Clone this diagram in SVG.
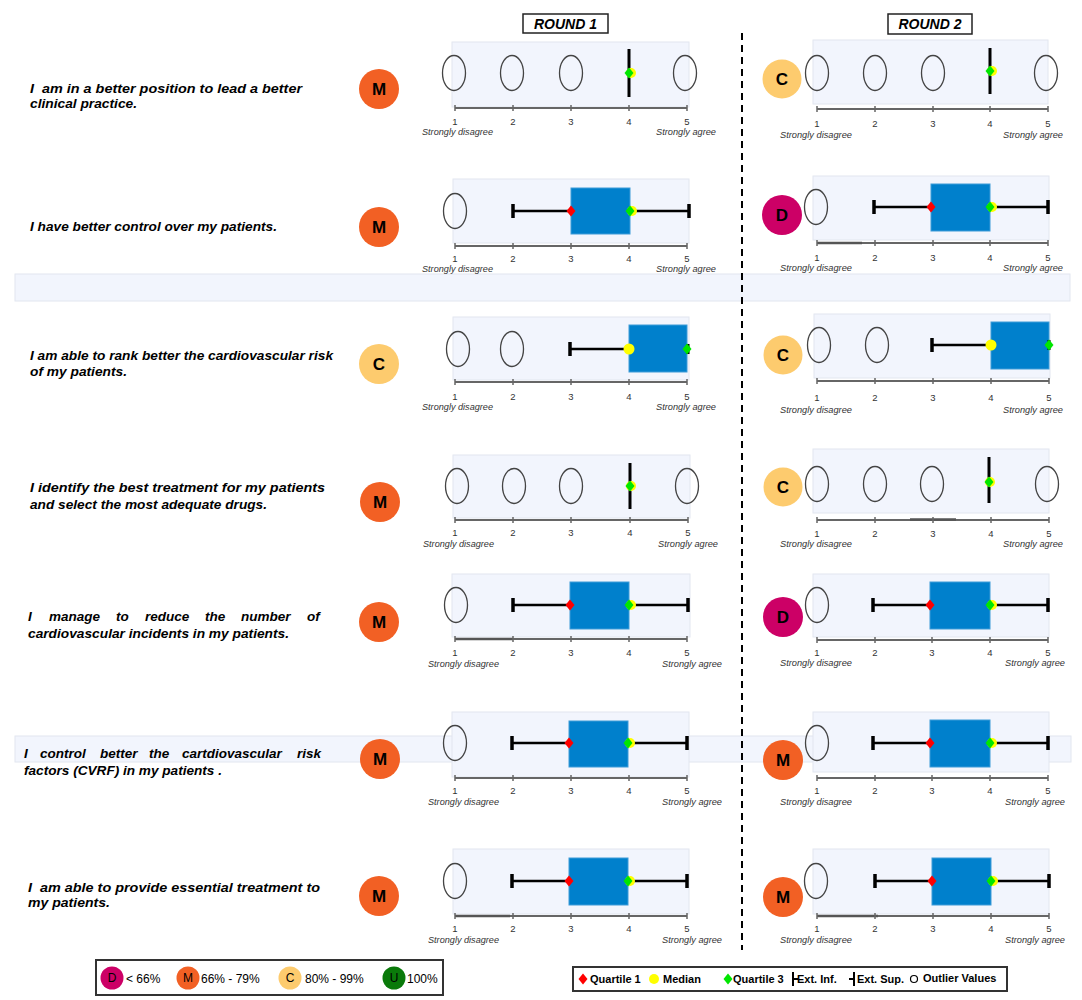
<svg xmlns="http://www.w3.org/2000/svg" xmlns:xlink="http://www.w3.org/1999/xlink" width="1082" height="1000" viewBox="0 0 1082 1000">
<style>
.bg{fill:#F2F5FD;stroke:#E2E6EF;stroke-width:1}
.band{fill:#F2F5FD;stroke:#E2E6EF;stroke-width:1}
.out{fill:none;stroke:#444;stroke-width:1.3}
.wh{stroke:#000;stroke-width:2.5;fill:none}
.cap{stroke:#000;stroke-width:3.5;fill:none}
.vl{stroke:#000;stroke-width:3;fill:none}
.box{fill:#0080CC;stroke:#3C9BD8;stroke-width:1}
.q1{fill:#FF0000}
.med{fill:#FFFF00}
.q3{fill:#00E600}
.ax{stroke:#666;stroke-width:2;fill:none}
.axd{stroke:#555;stroke-width:2.6;fill:none}
.tk{stroke:#666;stroke-width:1.5;fill:none}
.num{font-family:"Liberation Sans",Arial,sans-serif;font-size:9.5px;fill:#333;text-anchor:middle}
.lbl{font-family:"Liberation Sans",Arial,sans-serif;font-size:9.5px;font-style:italic;fill:#333}
.q{font-family:"Liberation Sans",Arial,sans-serif;font-size:13.5px;font-weight:bold;font-style:italic;fill:#000}
.title{font-family:"Liberation Sans",Arial,sans-serif;font-size:14px;font-weight:bold;font-style:italic;fill:#000;text-anchor:middle}
.tbox{fill:#fff;stroke:#222;stroke-width:1.5}
.bl{font-family:"Liberation Sans",Arial,sans-serif;font-size:17px;font-weight:bold;fill:#000;text-anchor:middle}
.M{fill:#F26024}.C{fill:#FDCB6E}.D{fill:#CC0066}.U{fill:#0A7A0A}
.lg{fill:#fff;stroke:#333;stroke-width:2}
.lt{font-family:"Liberation Sans",Arial,sans-serif;font-size:12px;fill:#000}
.ll{font-family:"Liberation Sans",Arial,sans-serif;font-size:12px;fill:#000;text-anchor:middle}
.lb{font-family:"Liberation Sans",Arial,sans-serif;font-size:11px;font-weight:bold;fill:#000}
.div{stroke:#000;stroke-width:2;stroke-dasharray:7 5;fill:none}
</style>
<defs>
<path id="dm" d="M0,-5.5 L4.5,0 L0,5.5 L-4.5,0Z"/>
</defs>
<rect width="1082" height="1000" fill="#fff"/>

<!-- bands -->
<rect class="band" x="15" y="274" width="1055" height="27"/>
<rect class="band" x="15" y="736" width="1056" height="26"/>

<!-- titles -->
<g id="title-round1"><rect class="tbox" x="523" y="14" width="85" height="19"/><text class="title" x="565.5" y="29">ROUND 1</text></g>
<g id="title-round2"><rect class="tbox" x="888" y="14" width="84" height="20"/><text class="title" x="930" y="29">ROUND 2</text></g>

<!-- questions -->
<g id="q1"><text class="q" xml:space="preserve" x="30" y="93" textLength="272" lengthAdjust="spacingAndGlyphs">I  am in a better position to lead a better</text><text class="q" x="30" y="108" textLength="107" lengthAdjust="spacingAndGlyphs">clinical practice.</text></g>
<g id="q2"><text class="q" x="30" y="231" textLength="247" lengthAdjust="spacingAndGlyphs">I have better control over my patients.</text></g>
<g id="q3"><text class="q" x="30" y="360" textLength="303" lengthAdjust="spacingAndGlyphs">I am able to rank better the cardiovascular risk</text><text class="q" x="30" y="376" textLength="97" lengthAdjust="spacingAndGlyphs">of my patients.</text></g>
<g id="q4"><text class="q" x="30" y="492" textLength="295" lengthAdjust="spacingAndGlyphs">I identify the best treatment for my patients</text><text class="q" x="30" y="509" textLength="237" lengthAdjust="spacingAndGlyphs">and select the most adequate drugs.</text></g>
<g id="q5"><text class="q" y="621"><tspan x="28">I</tspan><tspan x="49">manage</tspan><tspan x="116">to</tspan><tspan x="145">reduce</tspan><tspan x="205">the</tspan><tspan x="241">number</tspan><tspan x="307">of</tspan></text><text class="q" x="28" y="638" textLength="261" lengthAdjust="spacingAndGlyphs">cardiovascular incidents in my patients.</text></g>
<g id="q6"><text class="q" y="758"><tspan x="24">I</tspan><tspan x="40">control</tspan><tspan x="100">better</tspan><tspan x="149">the</tspan><tspan x="182">cartdiovascular</tspan><tspan x="297">risk</tspan></text><text class="q" x="24" y="775" textLength="198" lengthAdjust="spacingAndGlyphs">factors (CVRF) in my patients .</text></g>
<g id="q7"><text class="q" xml:space="preserve" x="28" y="892" textLength="292" lengthAdjust="spacingAndGlyphs">I  am able to provide essential treatment to</text><text class="q" x="28" y="907" textLength="82" lengthAdjust="spacingAndGlyphs">my patients.</text></g>

<!-- badges -->
<g id="badge-r1-q1"><circle class="M" cx="379" cy="89" r="20"/><text class="bl" x="379" y="95">M</text></g>
<g id="badge-r2-q1"><circle class="C" cx="782" cy="79" r="19.5"/><text class="bl" x="782" y="85">C</text></g>
<g id="badge-r1-q2"><circle class="M" cx="379" cy="227" r="20"/><text class="bl" x="379" y="233">M</text></g>
<g id="badge-r2-q2"><circle class="D" cx="782" cy="215" r="20"/><text class="bl" x="782" y="221">D</text></g>
<g id="badge-r1-q3"><circle class="C" cx="379" cy="364" r="20"/><text class="bl" x="379" y="370">C</text></g>
<g id="badge-r2-q3"><circle class="C" cx="783" cy="355" r="19.5"/><text class="bl" x="783" y="361">C</text></g>
<g id="badge-r1-q4"><circle class="M" cx="380" cy="502" r="20"/><text class="bl" x="380" y="508">M</text></g>
<g id="badge-r2-q4"><circle class="C" cx="783" cy="487" r="19.5"/><text class="bl" x="783" y="493">C</text></g>
<g id="badge-r1-q5"><circle class="M" cx="379" cy="622" r="20"/><text class="bl" x="379" y="628">M</text></g>
<g id="badge-r2-q5"><circle class="D" cx="783" cy="617" r="20"/><text class="bl" x="783" y="623">D</text></g>
<g id="badge-r1-q6"><circle class="M" cx="380" cy="759" r="20"/><text class="bl" x="380" y="765">M</text></g>
<g id="badge-r2-q6"><circle class="M" cx="783" cy="760" r="20"/><text class="bl" x="783" y="766">M</text></g>
<g id="badge-r1-q7"><circle class="M" cx="379" cy="896" r="20"/><text class="bl" x="379" y="902">M</text></g>
<g id="badge-r2-q7"><circle class="M" cx="783" cy="897" r="20"/><text class="bl" x="783" y="903">M</text></g>

<!-- Round 1 charts -->
<g id="chart-r1-q1">
<rect class="bg" x="452" y="42" width="237" height="65"/>
<ellipse class="out" cx="454" cy="73" rx="11.5" ry="17.5"/><ellipse class="out" cx="512" cy="73" rx="11.5" ry="17.5"/><ellipse class="out" cx="571" cy="73" rx="11.5" ry="17.5"/><ellipse class="out" cx="685" cy="73" rx="11.5" ry="17.5"/>
<path class="vl" d="M629,49V97"/>
<circle class="med" cx="631" cy="73" r="5"/><use href="#dm" x="629" y="73" class="q3"/>
<path class="ax" d="M455,108H687"/><path class="tk" d="M455,105v6M513,105v6M571,105v6M629,105v6M687,105v6"/>
<text class="num" y="125"><tspan x="455">1</tspan><tspan x="513">2</tspan><tspan x="571">3</tspan><tspan x="629">4</tspan><tspan x="687">5</tspan></text>
<text class="lbl" x="422" y="135" textLength="71" lengthAdjust="spacingAndGlyphs">Strongly disagree</text><text class="lbl" x="656" y="135" textLength="60" lengthAdjust="spacingAndGlyphs">Strongly agree</text>
</g>
<g id="chart-r1-q2">
<rect class="bg" x="453" y="179" width="236" height="64"/>
<ellipse class="out" cx="455" cy="211" rx="11.5" ry="17.5"/>
<path class="wh" d="M513,211H689"/><path class="cap" d="M513,204v14M689,204v14"/>
<rect class="box" x="571" y="188" width="59" height="46"/>
<use href="#dm" x="571" y="211" class="q1"/><circle class="med" cx="632" cy="211" r="5"/><use href="#dm" x="630" y="211" class="q3"/>
<path class="ax" d="M455,246H687"/><path class="tk" d="M455,243v6M513,243v6M571,243v6M629,243v6M687,243v6"/>
<text class="num" y="262"><tspan x="455">1</tspan><tspan x="513">2</tspan><tspan x="571">3</tspan><tspan x="629">4</tspan><tspan x="687">5</tspan></text>
<text class="lbl" x="422" y="272" textLength="71" lengthAdjust="spacingAndGlyphs">Strongly disagree</text><text class="lbl" x="656" y="272" textLength="60" lengthAdjust="spacingAndGlyphs">Strongly agree</text>
</g>
<g id="chart-r1-q3">
<rect class="bg" x="453" y="317" width="236" height="63"/>
<ellipse class="out" cx="458" cy="349" rx="11.5" ry="17.5"/><ellipse class="out" cx="512" cy="349" rx="11.5" ry="17.5"/>
<path class="wh" d="M570,349H629"/><path class="cap" d="M570,342v14"/>
<rect class="box" x="629" y="325" width="58" height="47"/>
<path class="vl" d="M688,344v10"/>
<circle class="med" cx="629" cy="349" r="5.5"/><use href="#dm" x="687" y="349" class="q3"/>
<path class="ax" d="M455,382H687"/><path class="tk" d="M455,379v6M513,379v6M571,379v6M629,379v6M687,379v6"/>
<text class="num" y="400"><tspan x="455">1</tspan><tspan x="513">2</tspan><tspan x="571">3</tspan><tspan x="629">4</tspan><tspan x="687">5</tspan></text>
<text class="lbl" x="422" y="410" textLength="71" lengthAdjust="spacingAndGlyphs">Strongly disagree</text><text class="lbl" x="656" y="410" textLength="60" lengthAdjust="spacingAndGlyphs">Strongly agree</text>
</g>
<g id="chart-r1-q4">
<rect class="bg" x="453" y="455" width="237" height="63"/>
<ellipse class="out" cx="457" cy="486" rx="11.5" ry="17.5"/><ellipse class="out" cx="514" cy="486" rx="11.5" ry="17.5"/><ellipse class="out" cx="571" cy="486" rx="11.5" ry="17.5"/><ellipse class="out" cx="687" cy="486" rx="11.5" ry="17.5"/>
<path class="vl" d="M630,463V509"/>
<circle class="med" cx="631" cy="486" r="5"/><use href="#dm" x="630" y="486" class="q3"/>
<path class="ax" d="M455,520H688"/><path class="tk" d="M455,517v6M513,517v6M571,517v6M630,517v6M688,517v6"/>
<text class="num" y="536"><tspan x="455">1</tspan><tspan x="513">2</tspan><tspan x="571">3</tspan><tspan x="630">4</tspan><tspan x="688">5</tspan></text>
<text class="lbl" x="423" y="547" textLength="71" lengthAdjust="spacingAndGlyphs">Strongly disagree</text><text class="lbl" x="658" y="547" textLength="60" lengthAdjust="spacingAndGlyphs">Strongly agree</text>
</g>
<g id="chart-r1-q5">
<rect class="bg" x="452" y="574" width="238" height="63"/>
<ellipse class="out" cx="456" cy="605" rx="11.5" ry="17.5"/>
<path class="wh" d="M513,605H688"/><path class="cap" d="M513,598v14M688,598v14"/>
<rect class="box" x="570" y="582" width="59" height="47"/>
<use href="#dm" x="570" y="605" class="q1"/><circle class="med" cx="631" cy="605" r="5"/><use href="#dm" x="629" y="605" class="q3"/>
<path class="ax" d="M455,639H687"/><path class="axd" d="M455,639H513"/><path class="tk" d="M455,636v6M513,636v6M571,636v6M629,636v6M687,636v6"/>
<text class="num" y="656"><tspan x="455">1</tspan><tspan x="513">2</tspan><tspan x="571">3</tspan><tspan x="629">4</tspan><tspan x="687">5</tspan></text>
<text class="lbl" x="428" y="667" textLength="71" lengthAdjust="spacingAndGlyphs">Strongly disagree</text><text class="lbl" x="662" y="667" textLength="60" lengthAdjust="spacingAndGlyphs">Strongly agree</text>
</g>
<g id="chart-r1-q6">
<rect class="bg" x="452" y="712" width="237" height="65"/>
<ellipse class="out" cx="455" cy="743" rx="11.5" ry="17.5"/>
<path class="wh" d="M512,743H687"/><path class="cap" d="M512,736v14M687,736v14"/>
<rect class="box" x="569" y="721" width="59" height="46"/>
<use href="#dm" x="569" y="743" class="q1"/><circle class="med" cx="630" cy="743" r="5"/><use href="#dm" x="628" y="743" class="q3"/>
<path class="ax" d="M455,778H687"/><path class="tk" d="M455,775v6M513,775v6M571,775v6M629,775v6M687,775v6"/>
<text class="num" y="794"><tspan x="455">1</tspan><tspan x="513">2</tspan><tspan x="571">3</tspan><tspan x="629">4</tspan><tspan x="687">5</tspan></text>
<text class="lbl" x="428" y="805" textLength="71" lengthAdjust="spacingAndGlyphs">Strongly disagree</text><text class="lbl" x="662" y="805" textLength="60" lengthAdjust="spacingAndGlyphs">Strongly agree</text>
</g>
<g id="chart-r1-q7">
<rect class="bg" x="453" y="849" width="236" height="65"/>
<ellipse class="out" cx="455" cy="881" rx="11.5" ry="17.5"/>
<path class="wh" d="M512,881H687"/><path class="cap" d="M512,874v14M687,874v14"/>
<rect class="box" x="569" y="858" width="59" height="47"/>
<use href="#dm" x="569" y="881" class="q1"/><circle class="med" cx="630" cy="881" r="5"/><use href="#dm" x="628" y="881" class="q3"/>
<path class="ax" d="M455,916H687"/><path class="axd" d="M455,916H510"/><path class="tk" d="M455,913v6M513,913v6M571,913v6M629,913v6M687,913v6"/>
<text class="num" y="932"><tspan x="455">1</tspan><tspan x="513">2</tspan><tspan x="571">3</tspan><tspan x="629">4</tspan><tspan x="687">5</tspan></text>
<text class="lbl" x="428" y="943" textLength="71" lengthAdjust="spacingAndGlyphs">Strongly disagree</text><text class="lbl" x="662" y="943" textLength="60" lengthAdjust="spacingAndGlyphs">Strongly agree</text>
</g>

<!-- Round 2 charts -->
<g id="chart-r2-q1">
<rect class="bg" x="813" y="40" width="235" height="64"/>
<ellipse class="out" cx="817" cy="73" rx="11.5" ry="17.5"/><ellipse class="out" cx="875" cy="73" rx="11.5" ry="17.5"/><ellipse class="out" cx="933" cy="73" rx="11.5" ry="17.5"/><ellipse class="out" cx="1046" cy="73" rx="11.5" ry="17.5"/>
<path class="vl" d="M990,48V94"/>
<circle class="med" cx="992" cy="71" r="5"/><use href="#dm" x="990" y="71" class="q3"/>
<path class="ax" d="M817,109H1048"/><path class="tk" d="M817,106v6M875,106v6M933,106v6M990,106v6M1048,106v6"/>
<text class="num" y="127"><tspan x="817">1</tspan><tspan x="875">2</tspan><tspan x="933">3</tspan><tspan x="990">4</tspan><tspan x="1048">5</tspan></text>
<text class="lbl" x="780" y="138" textLength="72" lengthAdjust="spacingAndGlyphs">Strongly disagree</text><text class="lbl" x="1003" y="138" textLength="60" lengthAdjust="spacingAndGlyphs">Strongly agree</text>
</g>
<g id="chart-r2-q2">
<rect class="bg" x="813" y="176" width="236" height="64"/>
<ellipse class="out" cx="816" cy="207" rx="11.5" ry="17.5"/>
<path class="wh" d="M874,207H1048"/><path class="cap" d="M874,200v14M1048,200v14"/>
<rect class="box" x="931" y="184" width="59" height="47"/>
<use href="#dm" x="931" y="207" class="q1"/><circle class="med" cx="992" cy="207" r="5"/><use href="#dm" x="990" y="207" class="q3"/>
<path class="ax" d="M817,243H1048"/><path class="axd" d="M817,243H862"/><path class="tk" d="M817,240v6M875,240v6M933,240v6M990,240v6M1048,240v6"/>
<text class="num" y="261"><tspan x="817">1</tspan><tspan x="875">2</tspan><tspan x="933">3</tspan><tspan x="990">4</tspan><tspan x="1048">5</tspan></text>
<text class="lbl" x="780" y="271" textLength="72" lengthAdjust="spacingAndGlyphs">Strongly disagree</text><text class="lbl" x="1003" y="271" textLength="60" lengthAdjust="spacingAndGlyphs">Strongly agree</text>
</g>
<g id="chart-r2-q3">
<rect class="bg" x="814" y="314" width="236" height="64"/>
<ellipse class="out" cx="819" cy="345" rx="11.5" ry="17.5"/><ellipse class="out" cx="877" cy="345" rx="11.5" ry="17.5"/>
<path class="wh" d="M932,345H991"/><path class="cap" d="M932,338v14"/>
<rect class="box" x="991" y="322" width="58" height="47"/>
<path class="vl" d="M1049,340v10"/>
<circle class="med" cx="991" cy="345" r="5.5"/><use href="#dm" x="1049" y="345" class="q3"/>
<path class="ax" d="M817,381H1049"/><path class="tk" d="M817,378v6M875,378v6M933,378v6M991,378v6M1049,378v6"/>
<text class="num" y="401"><tspan x="817">1</tspan><tspan x="875">2</tspan><tspan x="933">3</tspan><tspan x="991">4</tspan><tspan x="1049">5</tspan></text>
<text class="lbl" x="780" y="413" textLength="72" lengthAdjust="spacingAndGlyphs">Strongly disagree</text><text class="lbl" x="1003" y="413" textLength="60" lengthAdjust="spacingAndGlyphs">Strongly agree</text>
</g>
<g id="chart-r2-q4">
<rect class="bg" x="813" y="449" width="236" height="64"/>
<ellipse class="out" cx="817" cy="484" rx="11.5" ry="17.5"/><ellipse class="out" cx="875" cy="484" rx="11.5" ry="17.5"/><ellipse class="out" cx="932" cy="484" rx="11.5" ry="17.5"/><ellipse class="out" cx="1047" cy="484" rx="11.5" ry="17.5"/>
<path class="vl" d="M989,457V503"/>
<circle class="med" cx="990" cy="482" r="5"/><use href="#dm" x="989" y="482" class="q3"/>
<path class="ax" d="M817,520H1049"/><path class="axd" d="M910,519.5H956"/><path class="tk" d="M817,517v6M875,517v6M933,517v6M991,517v6M1049,517v6"/>
<text class="num" y="537"><tspan x="817">1</tspan><tspan x="875">2</tspan><tspan x="933">3</tspan><tspan x="991">4</tspan><tspan x="1049">5</tspan></text>
<text class="lbl" x="780" y="547" textLength="72" lengthAdjust="spacingAndGlyphs">Strongly disagree</text><text class="lbl" x="1003" y="547" textLength="60" lengthAdjust="spacingAndGlyphs">Strongly agree</text>
</g>
<g id="chart-r2-q5">
<rect class="bg" x="813" y="574" width="236" height="63"/>
<ellipse class="out" cx="817" cy="605" rx="11.5" ry="17.5"/>
<path class="wh" d="M873,605H1048"/><path class="cap" d="M873,598v14M1048,598v14"/>
<rect class="box" x="930" y="582" width="60" height="47"/>
<use href="#dm" x="930" y="605" class="q1"/><circle class="med" cx="992" cy="605" r="5"/><use href="#dm" x="990" y="605" class="q3"/>
<path class="ax" d="M817,640H1048"/><path class="tk" d="M817,637v6M875,637v6M932,637v6M990,637v6M1048,637v6"/>
<text class="num" y="656"><tspan x="817">1</tspan><tspan x="875">2</tspan><tspan x="932">3</tspan><tspan x="990">4</tspan><tspan x="1048">5</tspan></text>
<text class="lbl" x="780" y="666" textLength="72" lengthAdjust="spacingAndGlyphs">Strongly disagree</text><text class="lbl" x="1005" y="666" textLength="60" lengthAdjust="spacingAndGlyphs">Strongly agree</text>
</g>
<g id="chart-r2-q6">
<rect class="bg" x="813" y="712" width="236" height="60"/>
<ellipse class="out" cx="817" cy="743" rx="11.5" ry="17.5"/>
<path class="wh" d="M873,743H1048"/><path class="cap" d="M873,736v14M1048,736v14"/>
<rect class="box" x="930" y="720" width="60" height="47"/>
<use href="#dm" x="930" y="743" class="q1"/><circle class="med" cx="992" cy="743" r="5"/><use href="#dm" x="990" y="743" class="q3"/>
<path class="ax" d="M817,778H1048"/><path class="tk" d="M817,775v6M875,775v6M932,775v6M990,775v6M1048,775v6"/>
<text class="num" y="794"><tspan x="817">1</tspan><tspan x="875">2</tspan><tspan x="932">3</tspan><tspan x="990">4</tspan><tspan x="1048">5</tspan></text>
<text class="lbl" x="780" y="805" textLength="72" lengthAdjust="spacingAndGlyphs">Strongly disagree</text><text class="lbl" x="1005" y="805" textLength="60" lengthAdjust="spacingAndGlyphs">Strongly agree</text>
</g>
<g id="chart-r2-q7">
<rect class="bg" x="813" y="849" width="236" height="65"/>
<ellipse class="out" cx="816" cy="881" rx="11.5" ry="17.5"/>
<path class="wh" d="M875,881H1049"/><path class="cap" d="M875,874v14M1049,874v14"/>
<rect class="box" x="932" y="858" width="59" height="47"/>
<use href="#dm" x="932" y="881" class="q1"/><circle class="med" cx="993" cy="881" r="5"/><use href="#dm" x="991" y="881" class="q3"/>
<path class="ax" d="M817,916H1049"/><path class="axd" d="M817,916H878"/><path class="tk" d="M817,913v6M875,913v6M933,913v6M991,913v6M1049,913v6"/>
<text class="num" y="932"><tspan x="817">1</tspan><tspan x="875">2</tspan><tspan x="933">3</tspan><tspan x="991">4</tspan><tspan x="1049">5</tspan></text>
<text class="lbl" x="780" y="943" textLength="72" lengthAdjust="spacingAndGlyphs">Strongly disagree</text><text class="lbl" x="1005" y="943" textLength="60" lengthAdjust="spacingAndGlyphs">Strongly agree</text>
</g>

<g id="connectors">
<path class="div" d="M742,33V950"/>
</g>

<!-- legends -->
<g id="legend-consensus">
<rect class="lg" x="96" y="960" width="347" height="35"/>
<circle class="D" cx="112" cy="978" r="11.5"/><text class="ll" x="112" y="982">D</text><text class="lt" x="126" y="983">&lt; 66%</text>
<circle class="M" cx="188" cy="978" r="11.5"/><text class="ll" x="188" y="982">M</text><text class="lt" x="201" y="983">66% - 79%</text>
<circle class="C" cx="290" cy="978" r="11.5"/><text class="ll" x="290" y="982">C</text><text class="lt" x="305" y="983">80% - 99%</text>
<circle class="U" cx="394" cy="978" r="11.5"/><text class="ll" x="394" y="982">U</text><text class="lt" x="407" y="983">100%</text>
</g>
<g id="legend-boxplot">
<rect class="lg" x="573" y="967" width="434" height="24"/>
<use href="#dm" x="583" y="979" class="q1"/><text class="lb" x="590" y="983">Quartile 1</text>
<circle class="med" cx="654" cy="979" r="5"/><text class="lb" x="663" y="983">Median</text>
<use href="#dm" x="728" y="979" class="q3"/><text class="lb" x="733" y="983">Quartile 3</text>
<path d="M793,972v14M793,979h5" stroke="#000" stroke-width="2" fill="none"/><text class="lb" x="797" y="983">Ext. Inf.</text>
<path d="M854,972v14M849,979h5" stroke="#000" stroke-width="2" fill="none"/><text class="lb" x="857" y="983">Ext. Sup.</text>
<circle cx="914" cy="979" r="3.5" fill="none" stroke="#000" stroke-width="1.2"/><text class="lb" x="923" y="982">Outlier Values</text>
</g>
</svg>
